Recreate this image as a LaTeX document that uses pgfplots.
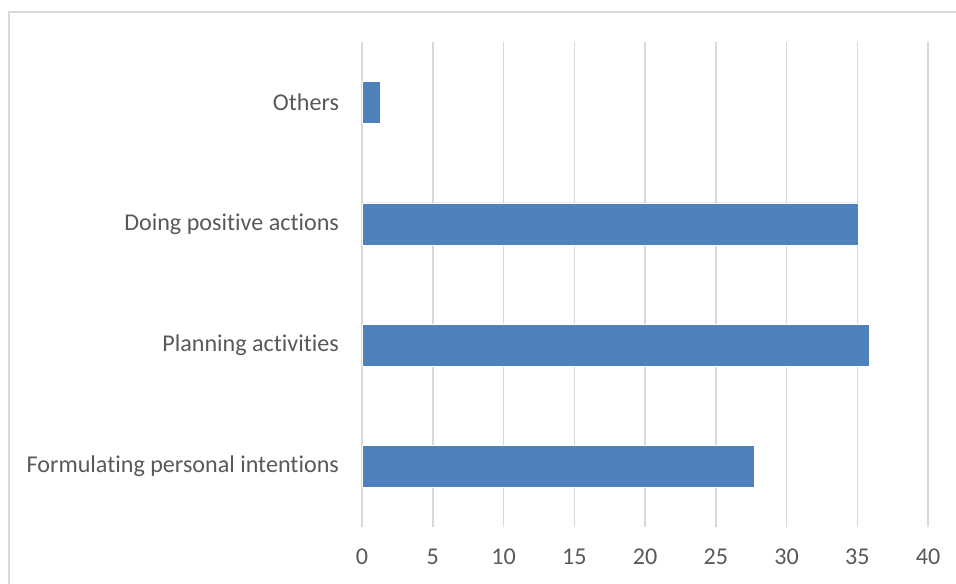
\documentclass[border=0pt]{standalone}
\usepackage{pgfplots}
\pgfplotsset{compat=1.18}
\usepackage{fontspec}
\setmainfont[Ligatures={NoCommon}]{Carlito}
\definecolor{barblue}{HTML}{4F81BD}
\definecolor{gridgray}{HTML}{D9D9D9}
\definecolor{txtgray}{HTML}{595959}
\begin{document}
\begin{tikzpicture}
\useasboundingbox (0,0) rectangle (478bp,292bp);
\draw[gridgray, line width=0.9bp] (4.5bp,0) -- (4.5bp,286bp) -- (478bp,286bp);
\begin{axis}[
  at={(181bp,28.5bp)}, anchor=south west,
  scale only axis, width=283bp, height=242.5bp,
  xbar, bar width=21bp,
  xmin=0, xmax=40, ymin=-0.5, ymax=3.5,
  xtick={0,5,...,40},
  ytick={0,1,2,3},
  yticklabels={Formulating personal intentions, Planning activities, Doing positive actions, {Others\hspace{2.7bp}}},
  xmajorgrids, grid style={gridgray, line width=0.75bp},
  axis line style={draw=none},
  major tick length=0pt,
  tick label style={font=\fontsize{12.05bp}{14bp}\selectfont, text=txtgray},
  /pgf/number format/assume math mode=true,
  xticklabel style={yshift=-7.5bp},
  yticklabel style={xshift=-8bp},
]
\addplot[fill=barblue, draw=white, line width=0.3bp] coordinates {(27.7,0) (35.85,1) (35.1,2) (1.28,3)};
\end{axis}
\end{tikzpicture}
\end{document}
